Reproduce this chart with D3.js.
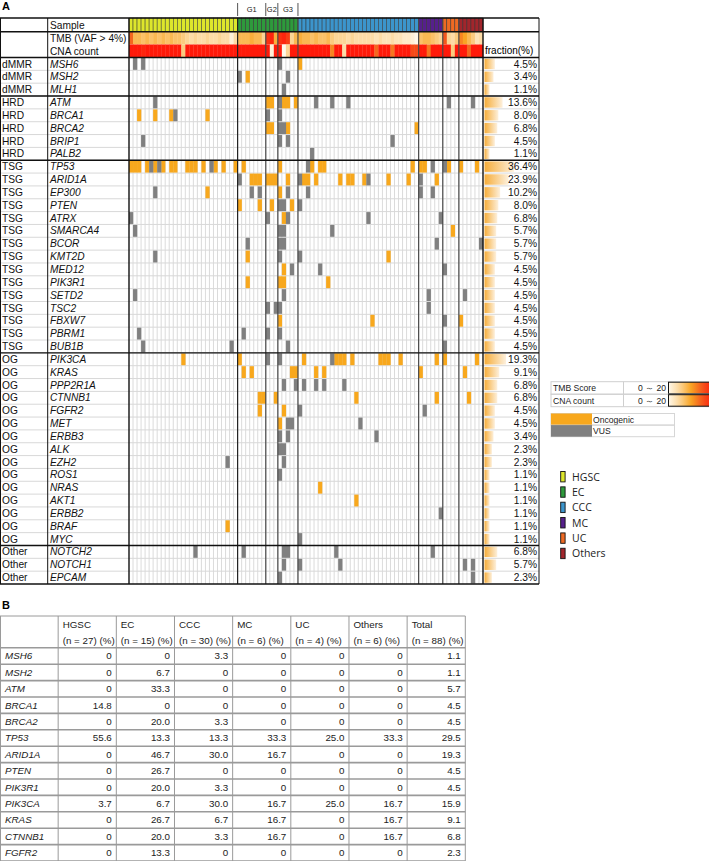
<!DOCTYPE html>
<html>
<head>
<meta charset="utf-8">
<script src="https://cdn.jsdelivr.net/npm/d3@7"></script>
<style>
  body { margin: 0; background: #fff; }
  svg { display: block; font-family: "Liberation Sans", Arial, sans-serif; }
</style>
</head>
<body>
<svg id="chart" width="709" height="861"></svg>
<script>
// ---- sample annotation ----
const sampleTypes = ["HGSC", "EC", "CCC", "MC", "UC", "Others"];
const sampleCounts = [27, 15, 30, 6, 4, 6];
const typeColors = ["#dde62c", "#2e9a3c", "#3c95cc", "#56208c", "#ee6a24", "#a2262c"];
const ecGrades = ["G1", "G2", "G3"];
const ecGradeCounts = [7, 3, 5];

// TMB score and CNA count per sample (0 - 20)
const tmb = [14,8,8,7,8,7,8,7,8,7,8,7,7,6,5,4,5,4,4,5,4,4,5,4,4,1,4,
             8,8,8,9,8,8,5,18,19,9,18,19,17,5,8,
             9,8,8,7,8,7,7,8,6,5,5,5,4,5,4,4,4,4,4,3,4,3,3,4,3,3,2,2,1,0,
             7,8,8,7,6,5,
             15,5,4,6,
             12,10,8,6,3,4];
const cna = [20,20,20,19,20,20,20,20,20,20,20,20,20,6,20,20,20,20,20,20,20,20,20,20,20,20,20,
             20,20,20,20,20,20,20,20,1,20,20,0,5,20,20,
             20,20,20,20,20,20,20,20,12,20,20,4,20,20,20,20,20,20,20,14,20,20,20,13,20,20,20,20,16,16,
             20,20,13,20,20,20,
             20,20,6,20,
             20,20,14,20,20,20];

// ---- genes ----
const geneGroups = ["dMMR","dMMR","dMMR","HRD","HRD","HRD","HRD","HRD",
  "TSG","TSG","TSG","TSG","TSG","TSG","TSG","TSG","TSG","TSG","TSG","TSG","TSG","TSG","TSG",
  "OG","OG","OG","OG","OG","OG","OG","OG","OG","OG","OG","OG","OG","OG","OG",
  "Other","Other","Other"];
const genes = ["MSH6","MSH2","MLH1","ATM","BRCA1","BRCA2","BRIP1","PALB2",
  "TP53","ARID1A","EP300","PTEN","ATRX","SMARCA4","BCOR","KMT2D","MED12","PIK3R1","SETD2","TSC2","FBXW7","PBRM1","BUB1B",
  "PIK3CA","KRAS","PPP2R1A","CTNNB1","FGFR2","MET","ERBB3","ALK","EZH2","ROS1","NRAS","AKT1","ERBB2","BRAF","MYC",
  "NOTCH2","NOTCH1","EPCAM"];
const fractions = [4.5,3.4,1.1,13.6,8.0,6.8,4.5,1.1,
  36.4,23.9,10.2,8.0,6.8,5.7,5.7,5.7,4.5,4.5,4.5,4.5,4.5,4.5,4.5,
  19.3,9.1,6.8,6.8,4.5,4.5,3.4,2.3,2.3,1.1,1.1,1.1,1.1,1.1,1.1,
  6.8,5.7,2.3];

// sample indices with an oncogenic alteration, per gene
const oncogenic = [
  [42],[29],[],[34,35,38,39,41],[2,6,10,19],[34,35,39,71],[],[],
  [0,1,2,4,6,8,10,11,14,15,16,18,21,23,26,28,37,45,47,48,70,72,73,79,82,86],
  [30,31,32,34,35,36,39,43,44,46,52,54,55,58,64,69,76],
  [19,37],[27,32,35,40],[38],[80],[],[29,64],[38],[29,37,38,49],[],[],[37,60,82],[],[],
  [13,27,43,51,52,53,55,62,63,64,67,76,78,86],
  [28,30,40,41,46,48,72,83],[],[32,33,36,56,76,84],[32,38],[37],[],[],[],[],[47],[56],[],[24],[],
  [],[],[]
];
// sample indices with a variant of unknown significance, per gene
const vus = [
  [1,3,37],[27,39],[38],[6,37,46,50,54,79,85],[11,34,37],[37,38],[3,37,39,65],[45],
  [5,7,20,44,75,78],
  [27,42,59,72],
  [6,30,32,39,44,72,75],[37,38,42],[0,34,39,59,77],[1,37,38,50],[29,37,38,76,87],[6,37,42],[40,47,78],[],
  [1,38,74,83],[34,36,37,74],[78],[2,28,34,37],[3,25,39,78],
  [34,37,50],
  [],[38,41,43,46,48,53],[],[42,73],[39,40,57],[37,39,61],[37,38],[24,38],[37],[],[],[77],[],[42],
  [16,28,38,39,51,75],[38,42,52,83,85],[37,85]
];

// ---- table B ----
const tableGenes = ["MSH6","MSH2","ATM","BRCA1","BRCA2","TP53","ARID1A","PTEN","PIK3R1","PIK3CA","KRAS","CTNNB1","FGFR2"];
const tableHeads = ["HGSC","EC","CCC","MC","UC","Others","Total"];
const tableN = ["(n = 27) (%)","(n = 15) (%)","(n = 30) (%)","(n = 6) (%)","(n = 4) (%)","(n = 6) (%)","(n = 88) (%)"];
const pctHGSC  = [0,0,0,14.8,0,55.6,0,0,0,3.7,0,0,0];
const pctEC    = [0,6.7,33.3,0,20.0,13.3,46.7,26.7,20.0,6.7,26.7,20.0,13.3];
const pctCCC   = [3.3,0,0,0,3.3,13.3,30.0,0,3.3,30.0,6.7,3.3,0];
const pctMC    = [0,0,0,0,0,33.3,16.7,0,0,16.7,16.7,16.7,0];
const pctUC    = [0,0,0,0,0,25.0,0,0,0,25.0,0,0,0];
const pctOther = [0,0,0,0,0,33.3,0,0,0,16.7,16.7,16.7,0];
const pctTotal = [1.1,1.1,5.7,4.5,4.5,29.5,19.3,4.5,4.5,15.9,9.1,6.8,2.3];

const svg = d3.select("#chart");
const nSamples = d3.sum(sampleCounts);
const sampleType = d3.merge(sampleTypes.map((t, i) => d3.range(sampleCounts[i]).map(() => i)));

// scales
const x = d3.scaleBand().domain(d3.range(nSamples)).range([129, 483]);
const y = d3.scaleBand().domain(genes).range([57.5, 584]);
const bw = x.bandwidth(), rh = y.bandwidth();
const heat = d3.scaleLinear().domain([0, 5, 10, 15, 20])
  .range(["#fff8ea", "#fcd596", "#f9a424", "#f4561c", "#ff1a0a"]).clamp(true);
const fracW = d3.scaleSqrt().domain([0, 40]).range([0, 31]);

const colL = 0, colG = 47.7, colF = 483, colR = 539;
const yTop = 18, ySample = 31.7, yTmb = 44.5, yHead = 57.5, yEnd = 584;

// gradients
const defs = svg.append("defs");
const fg = defs.append("linearGradient").attr("id", "fracGrad");
fg.append("stop").attr("offset", 0).attr("stop-color", "#f6ad3a");
fg.append("stop").attr("offset", 1).attr("stop-color", "#fdf0dc");
const hg = defs.append("linearGradient").attr("id", "heatGrad");
d3.range(0, 21, 2).forEach(v => hg.append("stop").attr("offset", v / 20).attr("stop-color", heat(v)));

svg.append("text").attr("x", 2).attr("y", 10).attr("font-size", 11).attr("font-weight", "bold").text("A");

// grade markers above EC
const gradeEdges = [27, 34, 37, 42];
gradeEdges.forEach(c => {
  svg.append("line").attr("x1", x(c)).attr("x2", x(c)).attr("y1", 3).attr("y2", 16)
    .attr("stroke", "#555").attr("stroke-width", 1);
});
ecGrades.forEach((g, i) => {
  svg.append("text").attr("x", (x(gradeEdges[i]) + x(gradeEdges[i + 1])) / 2).attr("y", 12)
    .attr("text-anchor", "middle").attr("font-size", 7.5).attr("fill", "#222").text(g);
});

// sample row
svg.append("g").selectAll("rect").data(d3.range(nSamples)).join("rect")
  .attr("x", d => x(d)).attr("y", yTop).attr("width", bw).attr("height", ySample - yTop)
  .attr("fill", d => typeColors[sampleType[d]]).attr("stroke", "#333").attr("stroke-width", 0.5);

// TMB and CNA rows
svg.append("g").selectAll("rect").data(tmb).join("rect")
  .attr("x", (d, i) => x(i)).attr("y", ySample).attr("width", bw + 0.3).attr("height", yTmb - ySample)
  .attr("fill", d => heat(d));
svg.append("g").selectAll("rect").data(cna).join("rect")
  .attr("x", (d, i) => x(i)).attr("y", yTmb).attr("width", bw + 0.3).attr("height", yHead - yTmb)
  .attr("fill", d => heat(d));

// light cell grid
const grid = svg.append("g").attr("stroke", "#d2d2d2").attr("stroke-width", 0.8);
grid.selectAll("line.v").data(d3.range(1, nSamples)).join("line").attr("class", "v")
  .attr("x1", d => x(d)).attr("x2", d => x(d)).attr("y1", yHead).attr("y2", yEnd);
grid.selectAll("line.h").data(genes.slice(1)).join("line").attr("class", "h")
  .attr("x1", colL).attr("x2", colR).attr("y1", d => y(d)).attr("y2", d => y(d))
  .attr("stroke", "#d8d8d8").attr("stroke-width", 1);

// alterations
const alt = [];
genes.forEach((g, i) => {
  oncogenic[i].forEach(s => alt.push({ gene: g, s: s, kind: "onc" }));
  vus[i].forEach(s => alt.push({ gene: g, s: s, kind: "vus" }));
});
svg.append("g").selectAll("rect").data(alt).join("rect")
  .attr("x", d => x(d.s)).attr("y", d => y(d.gene) + 0.5)
  .attr("width", bw + 0.2).attr("height", rh - 1)
  .attr("fill", d => d.kind === "onc" ? "#f8a81d" : "#808080");

// fraction bars and labels
const fr = svg.append("g");
fr.selectAll("rect").data(genes).join("rect")
  .attr("x", colF + 1.5).attr("y", d => y(d) + 1.2)
  .attr("width", (d, i) => fracW(fractions[i])).attr("height", rh - 2.4)
  .attr("fill", "url(#fracGrad)");
fr.selectAll("text").data(genes).join("text")
  .attr("x", colR - 2).attr("y", d => y(d) + rh / 2 + 3.6)
  .attr("text-anchor", "end").attr("font-size", 10.2).attr("fill", "#111")
  .text((d, i) => fractions[i].toFixed(1) + "%");
svg.append("text").attr("x", colF + 2).attr("y", 54).attr("font-size", 10).text("fraction(%)");

// left labels
const lab = svg.append("g").attr("font-size", 10.2).attr("fill", "#111");
lab.selectAll("text.grp").data(genes).join("text").attr("class", "grp")
  .attr("x", 2).attr("y", d => y(d) + rh / 2 + 3.6).text((d, i) => geneGroups[i]);
lab.selectAll("text.gene").data(genes).join("text").attr("class", "gene")
  .attr("x", 50).attr("y", d => y(d) + rh / 2 + 3.6).attr("font-style", "italic").text(d => d);
lab.append("text").attr("x", 50).attr("y", 28.5).text("Sample");
lab.append("text").attr("x", 50).attr("y", 41.7).text("TMB (VAF > 4%)");
lab.append("text").attr("x", 50).attr("y", 54.5).text("CNA count");

// group separators (vertical)
const typeEdges = d3.cumsum(sampleCounts).slice(0, -1);
const vEdges = Array.from(new Set([...typeEdges, 34, 37])).sort((a, b) => a - b);
svg.append("g").selectAll("line").data(vEdges).join("line")
  .attr("x1", d => x(d)).attr("x2", d => x(d)).attr("y1", yTop).attr("y2", yEnd)
  .attr("stroke", d => d === 27 ? "#222" : "#4a4a4a").attr("stroke-width", 1.2);

// frame lines
const groupStarts = genes.filter((g, i) => i > 0 && geneGroups[i] !== geneGroups[i - 1]);
const hLines = [yTop, ySample, yHead, ...groupStarts.map(g => y(g)), yEnd];
svg.append("g").selectAll("line").data(hLines).join("line")
  .attr("x1", colL).attr("x2", colR).attr("y1", d => d).attr("y2", d => d)
  .attr("stroke", "#111").attr("stroke-width", 1.4);
svg.append("g").selectAll("line").data([0.5, colG, 129, colF, colR]).join("line")
  .attr("x1", d => d).attr("x2", d => d).attr("y1", yTop).attr("y2", yEnd)
  .attr("stroke", "#111").attr("stroke-width", d => (d === 129 || d === colF) ? 1.4 : 1);

// ---- legends ----
const lg = svg.append("g").attr("font-size", 8.6).attr("fill", "#222");
const lx = 551, ly = 381.7, lrh = 12.5;
["TMB Score", "CNA count"].forEach((t, i) => {
  const yy = ly + i * lrh;
  lg.append("rect").attr("x", lx).attr("y", yy).attr("width", 170).attr("height", lrh)
    .attr("fill", "none").attr("stroke", "#cfcfcf");
  lg.append("line").attr("x1", 623.5).attr("x2", 623.5).attr("y1", yy).attr("y2", yy + lrh).attr("stroke", "#cfcfcf");
  lg.append("text").attr("x", lx + 2).attr("y", yy + 9.3).text(t);
  lg.append("text").attr("x", 666).attr("y", yy + 9.3).attr("text-anchor", "end").text("0 \uff5e 20");
  lg.append("rect").attr("x", 668.5).attr("y", yy + 0.5).attr("width", 45).attr("height", lrh - 1)
    .attr("fill", "url(#heatGrad)").attr("stroke", "#111").attr("stroke-width", 1);
});
const kinds = [["Oncogenic", "#f8a81d"], ["VUS", "#808080"]];
kinds.forEach((k, i) => {
  const yy = 413.5 + i * 11.6;
  lg.append("rect").attr("x", lx).attr("y", yy).attr("width", 123.5).attr("height", 11.6)
    .attr("fill", "none").attr("stroke", "#d6d6d6");
  lg.append("rect").attr("x", lx).attr("y", yy).attr("width", 41).attr("height", 11.6).attr("fill", k[1]);
  lg.append("text").attr("x", 593).attr("y", yy + 9).text(k[0]);
});
const tl = svg.append("g").attr("font-family", "'Open Sans', sans-serif").attr("font-size", 10.5).attr("fill", "#222");
sampleTypes.forEach((t, i) => {
  const cy = 476.7 + i * 15.35;
  tl.append("rect").attr("x", 560.7).attr("y", cy - 5.2).attr("width", 4.4).attr("height", 10.4)
    .attr("fill", typeColors[i]).attr("stroke", "#111").attr("stroke-width", 0.9);
  tl.append("text").attr("x", 572).attr("y", cy + 3.8).text(t);
});

// ---- table B ----
svg.append("text").attr("x", 2).attr("y", 609).attr("font-size", 11).attr("font-weight", "bold").text("B");
const tableCols = [pctHGSC, pctEC, pctCCC, pctMC, pctUC, pctOther, pctTotal];
const tx = d3.scaleBand().domain(d3.range(tableHeads.length + 1)).range([0, 465.3]);
const tw = tx.bandwidth();
const tTop = 616, tHead = 647.8;
const ty = d3.scaleBand().domain(tableGenes).range([tHead, tHead + tableGenes.length * 16.4]);
const tb = svg.append("g").attr("font-size", 9.8).attr("fill", "#222");
tableHeads.forEach((h, i) => {
  tb.append("text").attr("x", tx(i + 1) + 4.5).attr("y", 627.5).text(h);
  tb.append("text").attr("x", tx(i + 1) + 4.5).attr("y", 643.6).text(tableN[i]);
});
tableGenes.forEach((g, r) => {
  const cy = ty(g) + ty.bandwidth() / 2 + 3.4;
  tb.append("text").attr("x", 5).attr("y", cy).attr("font-style", "italic").text(g);
  tableCols.forEach((col, i) => {
    tb.append("text").attr("x", tx(i + 1) + tw - 4.5).attr("y", cy).attr("text-anchor", "end")
      .text(col[r] === 0 ? "0" : col[r].toFixed(1));
  });
});
const tLinesH = [tTop, tHead, ...tableGenes.slice(1).map(g => ty(g)), ty(tableGenes[tableGenes.length - 1]) + ty.bandwidth()];
svg.append("g").selectAll("line").data(tLinesH).join("line")
  .attr("x1", 0).attr("x2", 465.3).attr("y1", d => d).attr("y2", d => d)
  .attr("stroke", "#9a9a9a").attr("stroke-width", (d, i) => i === 0 ? 1 : 1.6);
const tVert = [0.5, ...d3.range(1, tableHeads.length + 1).map(i => tx(i)), 465.3];
svg.append("g").selectAll("line").data(tVert).join("line")
  .attr("x1", d => d).attr("x2", d => d).attr("y1", tTop).attr("y2", 861)
  .attr("stroke", "#9a9a9a").attr("stroke-width", 1);
</script>
</body>
</html>
